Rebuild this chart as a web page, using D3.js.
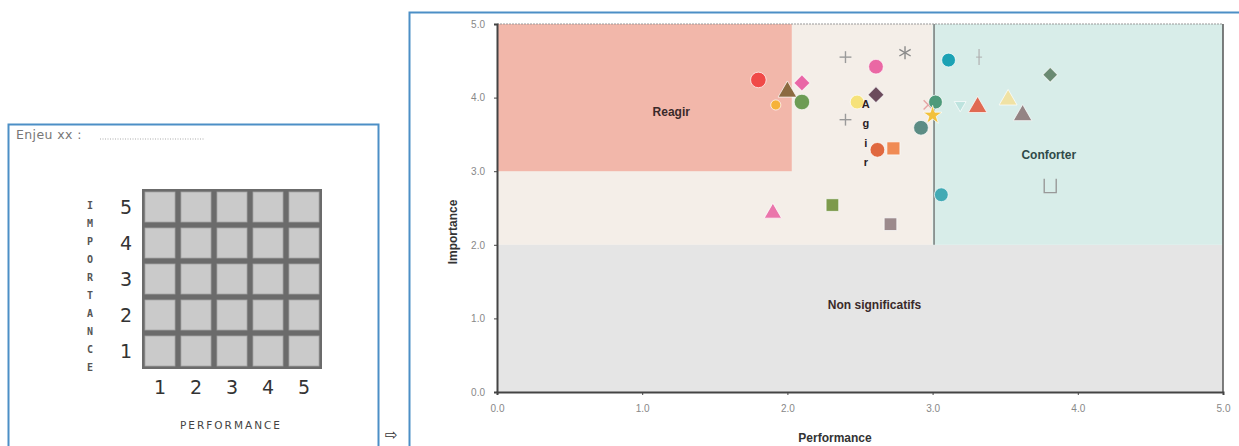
<!DOCTYPE html>
<html>
<head>
<meta charset="utf-8">
<script src="https://cdn.jsdelivr.net/npm/d3@7"></script>
<style>
  body { margin: 0; background: #fff; }
  svg { display: block; }
</style>
</head>
<body>
<div id="vis"></div>
<script>
// niveaux de la grille de saisie (panneau gauche)
const niveaux = [1, 2, 3, 4, 5];
const lettresImportance = "IMPORTANCE".split("");

// axes de la matrice (panneau droit)
const ticksX = [0, 1, 2, 3, 4, 5];
const ticksY = [0, 1, 2, 3, 4, 5];

// zones : [x0, x1, y0, y1]
const zonesNom = ["fond", "Non significatifs", "Reagir", "Conforter"];
const zonesX0 = [0, 0, 0, 3];
const zonesX1 = [3, 5, 2.03, 5];
const zonesY0 = [2, 0, 3, 2];
const zonesY1 = [5, 2, 5, 5];
const zonesCouleur = ["#f4eee8", "#e5e5e5", "#f2b7aa", "#d8ede9"];
const etiquettesX = [1.22, 2.6, 1.2, 3.8];
const etiquettesY = [null, 1.13, 3.75, 3.17];

// points (performance, importance)
const performance = [1.80, 1.92, 2.00, 2.10, 2.10, 1.90, 2.31, 2.71, 2.40, 2.61, 2.81, 2.48, 2.61, 2.40, 2.62, 2.73, 3.11, 3.32, 3.81, 2.97, 3.02, 3.00, 2.92, 3.31, 3.52, 3.62, 3.19, 3.06, 3.81];
const importance  = [4.24, 3.90, 4.08, 4.20, 3.94, 2.43, 2.54, 2.28, 4.55, 4.42, 4.61, 3.94, 4.04, 3.70, 3.29, 3.31, 4.51, 4.55, 4.31, 3.90, 3.94, 3.76, 3.59, 3.87, 3.97, 3.76, 3.90, 2.68, 2.79];
const formes = ["circle", "circle", "triangle", "diamond", "circle", "triangle", "square", "square", "plus", "circle", "asterisk", "circle", "diamond", "plus", "circle", "square", "circle", "bar", "diamond", "cross", "circle", "star", "circle", "triangle", "triangle", "triangle", "triangleDown", "circle", "open"];
const couleurs = ["#f04a48", "#f6b23a", "#8c6a40", "#e966a6", "#6d9c55", "#ea75ab", "#7d9a4c", "#9c8a8c", "#9a9a9a", "#ea68a4", "#8a8a8a", "#f6e27a", "#6b4b5c", "#9a9a9a", "#e0683f", "#f08b55", "#1ca2b4", "#b0b0b0", "#6a8a72", "#e6a4a4", "#4d9a7a", "#f2c13a", "#5c8c84", "#e06a52", "#f0e2a4", "#948484", "#bde3de", "#42aab4", "#999999"];
const tailles = [190, 80, 150, 130, 190, 130, 160, 160, 90, 170, 110, 150, 130, 90, 170, 170, 150, 60, 110, 110, 150, 110, 170, 150, 140, 150, 60, 150, 110];

const W = 1239, H = 446;
const svg = d3.select("#vis").append("svg")
  .attr("width", W)
  .attr("height", H);

// ---------- panneau gauche : grille vierge ----------
const gauche = svg.append("g");
gauche.append("rect")
  .attr("x", 8.5).attr("y", 124.5)
  .attr("width", 370).attr("height", 340)
  .attr("fill", "none")
  .attr("stroke", "#4c8fc6")
  .attr("stroke-width", 2);

gauche.append("text")
  .attr("x", 16).attr("y", 139)
  .attr("font-family", "'DejaVu Sans', sans-serif")
  .attr("font-size", 12.5)
  .attr("letter-spacing", 0.4)
  .attr("fill", "#777")
  .text("Enjeu xx :");
gauche.append("line")
  .attr("x1", 100).attr("x2", 205)
  .attr("y1", 139).attr("y2", 139)
  .attr("stroke", "#aaa")
  .attr("stroke-dasharray", "1,1.5");

const gx = d3.scaleBand().domain(niveaux).range([142, 322]).padding(0);
const gy = d3.scaleBand().domain(niveaux.slice().reverse()).range([189, 369]).padding(0);

gauche.append("rect")
  .attr("x", 142).attr("y", 189)
  .attr("width", 180).attr("height", 180)
  .attr("fill", "#6b6b6b");

niveaux.forEach(i => {
  gauche.selectAll(null)
    .data(niveaux)
    .join("rect")
    .attr("x", d => gx(d) + 3)
    .attr("y", gy(i) + 3)
    .attr("width", gx.bandwidth() - 6)
    .attr("height", gy.bandwidth() - 6)
    .attr("fill", "#cacaca")
    .attr("stroke", "#a5a5a5")
    .attr("stroke-width", 0.8);
});

gauche.selectAll(".ly")
  .data(niveaux)
  .join("text")
  .attr("x", 126)
  .attr("y", d => gy(d) + gy.bandwidth() / 2 + 7)
  .attr("text-anchor", "middle")
  .attr("font-family", "'DejaVu Sans', sans-serif")
  .attr("font-size", 19)
  .attr("fill", "#333")
  .text(d => d);

gauche.selectAll(".lx")
  .data(niveaux)
  .join("text")
  .attr("x", d => gx(d) + gx.bandwidth() / 2)
  .attr("y", 394)
  .attr("text-anchor", "middle")
  .attr("font-family", "'DejaVu Sans', sans-serif")
  .attr("font-size", 19)
  .attr("fill", "#333")
  .text(d => d);

const lettreY = d3.scalePoint().domain(d3.range(lettresImportance.length)).range([209, 371]);
gauche.selectAll(".li")
  .data(lettresImportance)
  .join("text")
  .attr("x", 90)
  .attr("y", (d, i) => lettreY(i))
  .attr("text-anchor", "middle")
  .attr("font-family", "'DejaVu Sans Mono', monospace")
  .attr("font-size", 10)
  .attr("font-weight", "bold")
  .attr("fill", "#555")
  .text(d => d);

gauche.append("text")
  .attr("x", 231).attr("y", 429)
  .attr("text-anchor", "middle")
  .attr("font-family", "'DejaVu Sans', sans-serif")
  .attr("font-size", 10.5)
  .attr("letter-spacing", 2)
  .attr("fill", "#444")
  .text("PERFORMANCE");

// flèche
svg.append("text")
  .attr("x", 385).attr("y", 440)
  .attr("font-family", "'DejaVu Sans', sans-serif")
  .attr("font-size", 15)
  .attr("fill", "#333")
  .text("⇨");

// ---------- panneau droit : matrice ----------
svg.append("path")
  .attr("d", `M1245,12.5 H409.5 V460`)
  .attr("fill", "none")
  .attr("stroke", "#4c8fc6")
  .attr("stroke-width", 2);

const x = d3.scaleLinear().domain([0, 5]).range([497, 1223]);
const y = d3.scaleLinear().domain([0, 5]).range([392, 24]);

const zones = svg.append("g");
zonesNom.forEach((nom, i) => {
  zones.append("rect")
    .attr("x", x(zonesX0[i]))
    .attr("y", y(zonesY1[i]))
    .attr("width", x(zonesX1[i]) - x(zonesX0[i]))
    .attr("height", y(zonesY0[i]) - y(zonesY1[i]))
    .attr("fill", zonesCouleur[i]);
});

// séparation verticale performance = 3
svg.append("line")
  .attr("x1", x(3.01)).attr("x2", x(3.01))
  .attr("y1", y(2)).attr("y2", y(5))
  .attr("stroke", "#6a6a6a")
  .attr("stroke-width", 1.3);

// bordure haute pointillée et droite
svg.append("line")
  .attr("x1", x(0)).attr("x2", x(5))
  .attr("y1", y(5)).attr("y2", y(5))
  .attr("stroke", "#999")
  .attr("stroke-dasharray", "2,1");
svg.append("line")
  .attr("x1", x(5)).attr("x2", x(5))
  .attr("y1", y(5)).attr("y2", y(0))
  .attr("stroke", "#555")
  .attr("stroke-width", 1.5);

// étiquettes de zones
zonesNom.forEach((nom, i) => {
  if (etiquettesY[i] === null) return;
  svg.append("text")
    .attr("x", x(etiquettesX[i]))
    .attr("y", y(etiquettesY[i]))
    .attr("text-anchor", "middle")
    .attr("font-family", "'Liberation Sans Narrow', 'Liberation Sans', sans-serif")
    .attr("font-weight", "bold")
    .attr("font-size", 12)
    .attr("fill", i === 3 ? "#2f4a48" : "#3a2a2a")
    .text(nom);
});

// axes
const axeX = svg.append("g")
  .attr("transform", `translate(0,${y(0)})`)
  .call(d3.axisBottom(x).tickValues(ticksX).tickSize(3).tickFormat(d3.format(".1f")));
const axeY = svg.append("g")
  .attr("transform", `translate(${x(0)},0)`)
  .call(d3.axisLeft(y).tickValues(ticksY).tickSize(3).tickFormat(d3.format(".1f")));

[axeX, axeY].forEach(a => {
  a.select(".domain").attr("stroke", "#444").attr("stroke-width", 2);
  a.selectAll(".tick line").attr("stroke", "#444");
  a.selectAll(".tick text")
    .attr("font-family", "'Liberation Sans', sans-serif")
    .attr("font-size", 10)
    .attr("fill", "#888");
});
axeX.selectAll(".tick text").attr("dy", "1.4em");
axeY.selectAll(".tick text").attr("dx", "-0.6em");

svg.append("text")
  .attr("x", 835).attr("y", 442)
  .attr("text-anchor", "middle")
  .attr("font-family", "'Liberation Sans Narrow', 'Liberation Sans', sans-serif")
  .attr("font-weight", "bold")
  .attr("font-size", 12)
  .attr("fill", "#333")
  .text("Performance");

svg.append("text")
  .attr("transform", `translate(457,232) rotate(-90)`)
  .attr("text-anchor", "middle")
  .attr("font-family", "'Liberation Sans Narrow', 'Liberation Sans', sans-serif")
  .attr("font-weight", "bold")
  .attr("font-size", 12)
  .attr("fill", "#333")
  .text("Importance");

// points
const symboles = {
  circle: d3.symbolCircle,
  triangle: d3.symbolTriangle,
  diamond: d3.symbolSquare,
  square: d3.symbolSquare,
  star: d3.symbolStar,
  triangleDown: d3.symbolTriangle
};
const rotations = { diamond: 45, triangleDown: 180 };

const points = svg.append("g");
performance.forEach((p, i) => {
  const f = formes[i];
  const g = points.append("g")
    .attr("transform", `translate(${x(p)},${y(importance[i])})`);
  if (symboles[f]) {
    g.append("path")
      .attr("d", d3.symbol().type(symboles[f]).size(tailles[i])())
      .attr("transform", rotations[f] ? `rotate(${rotations[f]})` : null)
      .attr("fill", couleurs[i])
      .attr("stroke", "#fff")
      .attr("stroke-width", 1)
      .attr("stroke-opacity", 0.7);
  } else if (f === "plus" || f === "asterisk" || f === "cross") {
    const r = Math.sqrt(tailles[i]) / 1.6;
    const angles = f === "plus" ? [0, 90] : f === "cross" ? [45, 135] : [0, 60, 120];
    angles.forEach(a => {
      g.append("line")
        .attr("x1", -r).attr("x2", r)
        .attr("transform", `rotate(${a + (f === "asterisk" ? 90 : 0)})`)
        .attr("stroke", couleurs[i])
        .attr("stroke-width", 1.4);
    });
  } else if (f === "bar") {
    g.append("line")
      .attr("y1", -8).attr("y2", 8)
      .attr("stroke", couleurs[i])
      .attr("stroke-width", 1.2);
    g.append("line")
      .attr("x1", -3).attr("x2", 3)
      .attr("stroke", couleurs[i])
      .attr("stroke-width", 1);
  } else if (f === "open") {
    g.append("path")
      .attr("d", "M-6,-8 V6 H6 V-8")
      .attr("fill", "none")
      .attr("stroke", couleurs[i])
      .attr("stroke-width", 1.4);
  }
});

// libellé vertical "Agir"
const lettresAgir = "Agir".split("");
const agirY = d3.scalePoint().domain(d3.range(lettresAgir.length)).range([y(3.86), y(3.07)]);
svg.selectAll(".agir")
  .data(lettresAgir)
  .join("text")
  .attr("x", x(2.54))
  .attr("y", (d, i) => agirY(i))
  .attr("text-anchor", "middle")
  .attr("font-family", "'Liberation Sans', sans-serif")
  .attr("font-weight", "bold")
  .attr("font-size", 11)
  .attr("fill", "#2a2024")
  .text(d => d);
</script>
</body>
</html>
